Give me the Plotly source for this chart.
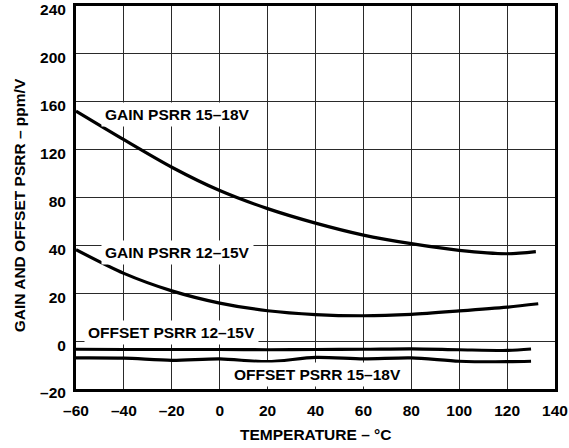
import numpy as np
import plotly.graph_objects as go

# ---- data ----
y_tick_values = [-20, 0, 20, 40, 80, 120, 160, 200, 240]
y_tick_labels = ["–20", "0", "20", "40", "80", "120", "160", "200", "240"]
x_tick_values = [-60, -40, -20, 0, 20, 40, 60, 80, 100, 120, 140]
x_tick_labels = ["–60", "–40", "–20", "0", "20", "40", "60", "80", "100", "120", "140"]

temp_gain_hi = [-60, -40, -20, 0, 20, 40, 60, 80, 100, 120, 132]
gain_psrr_15_18 = [152.2, 128.3, 105.3, 85.8, 70.7, 58.6, 48.6, 41.4, 37.9, 36.5, 37.4]

temp_gain_lo = [-60, -40, -20, 0, 20, 40, 60, 80, 100, 120, 133]
gain_psrr_12_15 = [38.2, 28.3, 21.0, 15.9, 12.7, 11.1, 10.6, 11.2, 12.6, 14.2, 15.6]

temp_off = [-60, -40, -20, 0, 20, 40, 60, 80, 100, 120, 130]
offset_psrr_12_15 = [-3.4, -3.5, -3.5, -3.5, -3.6, -3.5, -3.4, -3.2, -3.6, -3.9, -3.3]
offset_psrr_15_18 = [-7.0, -7.1, -8.0, -7.4, -8.6, -6.8, -7.4, -7.0, -8.4, -8.6, -8.4]

labels = [
    ("GAIN PSRR 15–18V", -17.7, 149.0),
    ("GAIN PSRR 12–15V", -17.7, 37.1),
    ("OFFSET PSRR 12–15V", -20.0, 3.8),
    ("OFFSET PSRR 15–18V", 41.0, -14.0),
]

# The chart's y axis is piecewise linear: gridlines equally spaced at the tick values
tick_index = list(range(len(y_tick_values)))


def ymap(v):
    return np.interp(np.asarray(v, dtype=float), y_tick_values, tick_index)


FONT = dict(family="Liberation Sans, Arial, Helvetica, sans-serif", size=15.5,
            color="black", weight="bold")

fig = go.Figure()
for t, v in [(temp_gain_hi, gain_psrr_15_18), (temp_gain_lo, gain_psrr_12_15),
             (temp_off, offset_psrr_12_15), (temp_off, offset_psrr_15_18)]:
    fig.add_trace(go.Scatter(x=t, y=ymap(v), mode="lines",
                             line=dict(color="black", width=3.2, shape="spline", smoothing=0.8),
                             showlegend=False, hoverinfo="skip"))

annotations = []
for text, x, y in labels:
    annotations.append(dict(text=text, x=x, y=float(ymap(y)), xref="x", yref="y",
                            showarrow=False, bgcolor="white", borderpad=3, font=FONT))
annotations.append(dict(text="TEMPERATURE – °C", x=0.5, y=-0.119, xref="paper", yref="paper",
                        showarrow=False, font=FONT, xanchor="center", yanchor="middle"))
annotations.append(dict(text="GAIN AND OFFSET PSRR – ppm/V", x=-0.118, y=0.481,
                        xref="paper", yref="paper", textangle=-90,
                        showarrow=False, font=FONT, xanchor="center", yanchor="middle"))

fig.update_layout(
    width=569, height=448,
    margin=dict(l=75.5, r=13.5, t=6, b=58.5, autoexpand=False),
    paper_bgcolor="white", plot_bgcolor="white",
    font=FONT,
    annotations=annotations,
)
fig.update_xaxes(range=[-60, 140], tickvals=x_tick_values, ticktext=x_tick_labels,
                 showgrid=True, gridcolor="#2a2a2a", gridwidth=1.4, zeroline=False,
                 showline=True, linecolor="black", linewidth=3, mirror=True,
                 ticks="", tickfont=FONT, automargin=False,
                 ticklabeloverflow="allow", ticklabelstandoff=5)
fig.update_yaxes(range=[0, len(y_tick_values) - 1], tickvals=tick_index, ticktext=y_tick_labels,
                 showgrid=True, gridcolor="#2a2a2a", gridwidth=1.4, zeroline=False,
                 showline=True, linecolor="black", linewidth=3, mirror=True,
                 ticks="", tickfont=FONT, automargin=False,
                 ticklabeloverflow="allow", ticklabelstandoff=4, ticklabelshift=4)

fig.write_html("out.html", config={"displayModeBar": False},
               post_script="document.body.style.margin='0';document.body.style.overflow='hidden';")
